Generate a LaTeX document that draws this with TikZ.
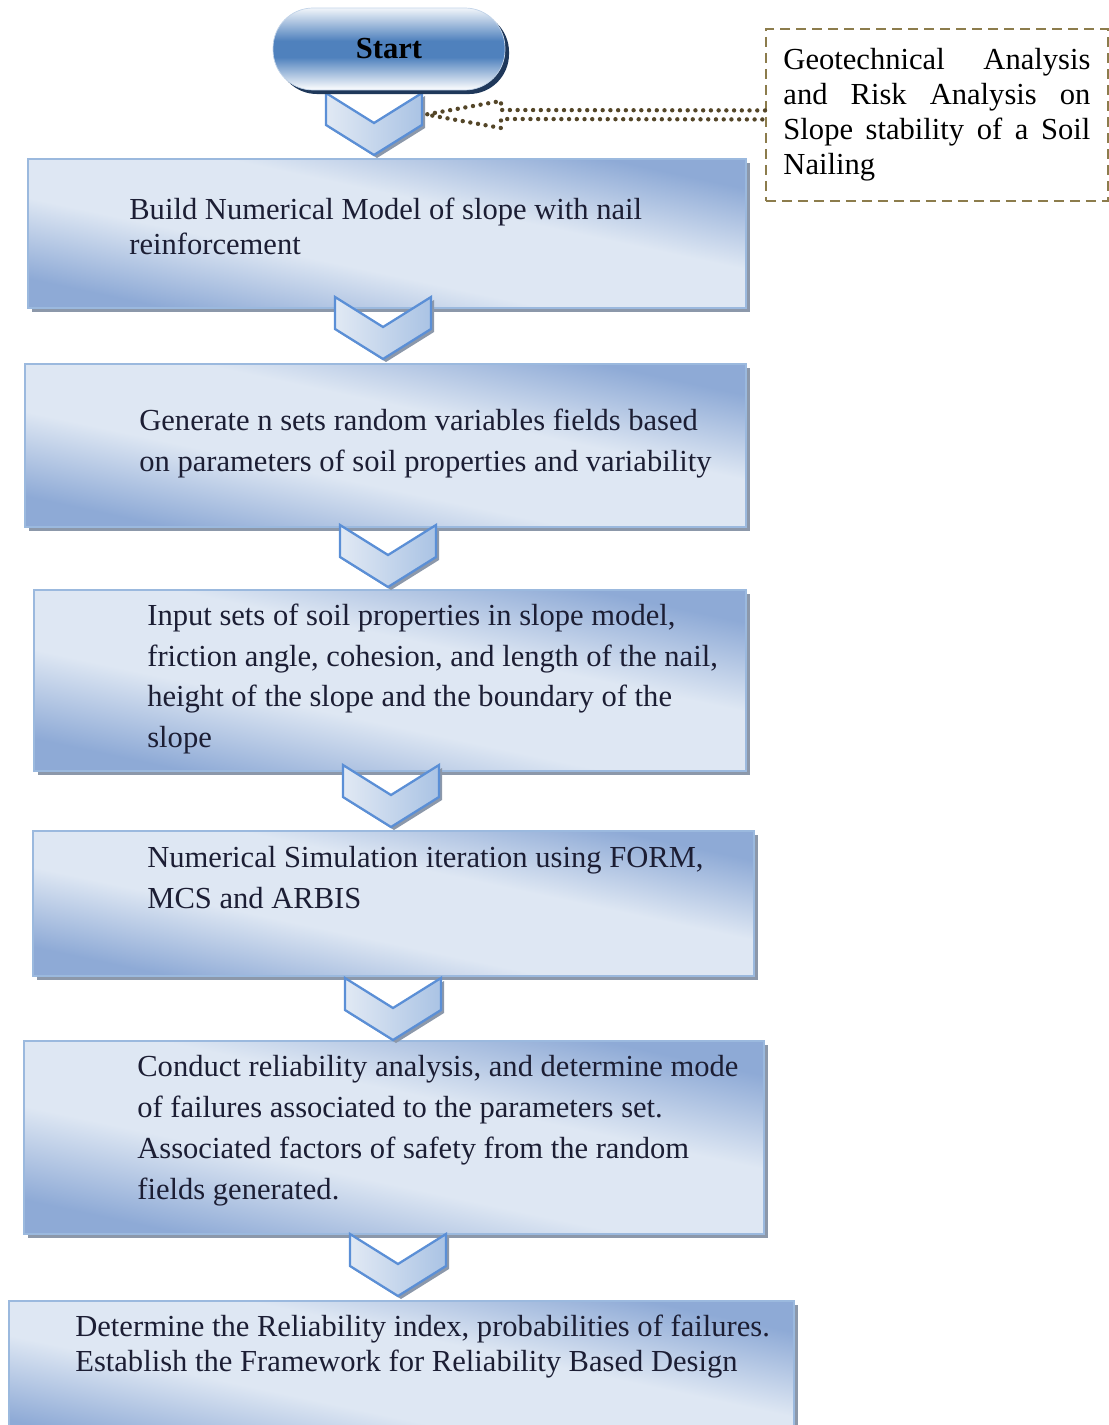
\documentclass[tikz,border=0pt]{standalone}
\usepackage{fontspec}
\setmainfont{Liberation Serif}
\usetikzlibrary{shadows,calc}
\definecolor{boxdark}{RGB}{142,170,214}
\definecolor{boxlight}{RGB}{222,231,243}
\definecolor{boxedge}{RGB}{155,185,222}
\definecolor{shadowgray}{RGB}{140,152,170}
\definecolor{startblue}{RGB}{79,129,189}
\definecolor{startnavy}{RGB}{31,56,90}
\definecolor{chevedge}{RGB}{91,143,214}
\definecolor{chevlight}{RGB}{225,233,244}
\definecolor{chevdark}{RGB}{170,195,228}
\definecolor{noteolive}{RGB}{140,124,76}
\definecolor{dotbrown}{RGB}{84,70,40}
\definecolor{textnavy}{RGB}{28,30,52}
\pgfdeclarehorizontalshading{boxshade}{100bp}{color(0bp)=(boxdark); color(26bp)=(boxdark); color(42bp)=(boxlight); color(58bp)=(boxlight); color(74bp)=(boxdark); color(100bp)=(boxdark)}
\pgfdeclareverticalshading{startshade}{100bp}{color(0bp)=(white); color(25bp)=(white); color(45bp)=(startblue); color(55bp)=(startblue); color(75bp)=(white!92!startblue); color(100bp)=(white)}

\begin{document}
\begin{tikzpicture}[
    x=0.02cm, y=-0.02cm,
    stepbox/.style  = {rectangle, draw=boxedge, line width=1.1pt, anchor=north west,
                       shading=boxshade, shading angle=78, inner sep=0pt,
                       drop shadow={shadow xshift=2.3pt, shadow yshift=-2.3pt,
                                    fill=shadowgray, opacity=1}},
    steptext/.style = {anchor=west, align=left, inner sep=0pt, text=textnavy,
                       font=\fontsize{17.4}{23.3}\selectfont},
    tight/.style    = {font=\fontsize{17.4}{19.9}\selectfont},
    startbox/.style = {rectangle, rounded corners=0.8cm, draw=startblue!35, thin,
                       shading=startshade, minimum width=4.64cm, minimum height=1.64cm,
                       font=\fontsize{17.4}{20}\selectfont\bfseries,
                       drop shadow={shadow xshift=2.3pt, shadow yshift=-2.3pt,
                                    fill=startnavy, opacity=1}},
    notebox/.style  = {rectangle, draw=noteolive, line width=1.1pt,
                       dash pattern=on 0.2cm off 0.12cm, anchor=north west,
                       text width=6.14cm, inner xsep=0.35cm, minimum height=3.44cm,
                       align=left, font=\fontsize{17.4}{19.9}\selectfont},
    chevbody/.style = {draw=chevedge, line width=1.3pt, left color=chevlight,
                       right color=chevdark},
    dotarrow/.style = {dotbrown, line width=2.5pt, line cap=round,
                       dash pattern=on 0pt off 4.4pt},
    chev/.pic = {
      \fill[shadowgray] (-45,3) -- (3,33) -- (51,3) -- (51,35) -- (3,65) -- (-45,35) -- cycle;
      \draw[chevbody] (-48,0) -- (0,30) -- (48,0) -- (48,32) -- (0,62) -- (-48,32) -- cycle;
      \coordinate (-right) at (52,21.5);
    },
  ]
  \useasboundingbox (0,0) rectangle (1108,1425);

  %% process boxes
  \node[stepbox, minimum width=14.36cm, minimum height=2.98cm] (build)    at (27,158)  {};
  \node[stepbox, minimum width=14.42cm, minimum height=3.26cm] (generate) at (24,363)  {};
  \node[stepbox, minimum width=14.24cm, minimum height=3.62cm] (input)    at (33,589)  {};
  \node[stepbox, minimum width=14.42cm, minimum height=2.90cm] (simulate) at (32,830)  {};
  \node[stepbox, minimum width=14.80cm, minimum height=3.86cm] (conduct)  at (23,1040) {};
  \node[stepbox, minimum width=15.70cm, minimum height=3.00cm] (determine) at (8,1300) {};

  %% box texts
  \node[steptext, tight] (buildtxt) at (129,226.5)
    {Build Numerical Model of slope with nail\\reinforcement};
  \node[steptext] (generatetxt) at (139,444)
    {Generate n sets random variables fields based\\on parameters of soil properties and variability};
  \node[steptext] (inputtxt) at (147,679)
    {Input sets of soil properties in slope model,\\friction angle, cohesion, and length of the nail,\\height of the slope and the boundary of the\\slope};
  \node[steptext] (simulatetxt) at (147,877.5)
    {Numerical Simulation iteration using FORM,\\MCS and ARBIS};
  \node[steptext] (conducttxt) at (137,1131)
    {Conduct reliability analysis, and determine mode\\of failures associated to the parameters set.\\Associated factors of safety from the random\\fields generated.};
  \node[steptext, tight] (determinetxt) at (75,1347)
    {Determine the Reliability index, probabilities of failures.\\Establish the Framework for Reliability Based Design};

  %% chevrons between steps
  \pic (c1) at (374,93)   {chev};
  \pic (c2) at (383,297)  {chev};
  \pic (c3) at (388,525)  {chev};
  \pic (c4) at (391,765)  {chev};
  \pic (c5) at (393,978)  {chev};
  \pic (c6) at (398,1234) {chev};

  %% start
  \node[startbox] (start) at (389,49) {Start};

  %% side note
  \node[notebox] (note) at (765,28)
    {\makebox[6.14cm][l]{Geotechnical\hfill Analysis}\\
     \makebox[6.14cm][l]{and\hfill Risk\hfill Analysis\hfill on}\\
     \makebox[6.14cm][l]{Slope\hfill stability\hfill of\hfill a\hfill Soil}\\
     Nailing};

  \draw[dotarrow] ($(note.west)+(0,-4.5)$) -- ($(c1-right)+(75,-4.5)$)
    -- ($(c1-right)+(75,-13.5)$) -- (c1-right) -- ($(c1-right)+(75,13.5)$)
    -- ($(c1-right)+(75,4.5)$) -- ($(note.west)+(0,4.5)$);

\end{tikzpicture}
\end{document}
